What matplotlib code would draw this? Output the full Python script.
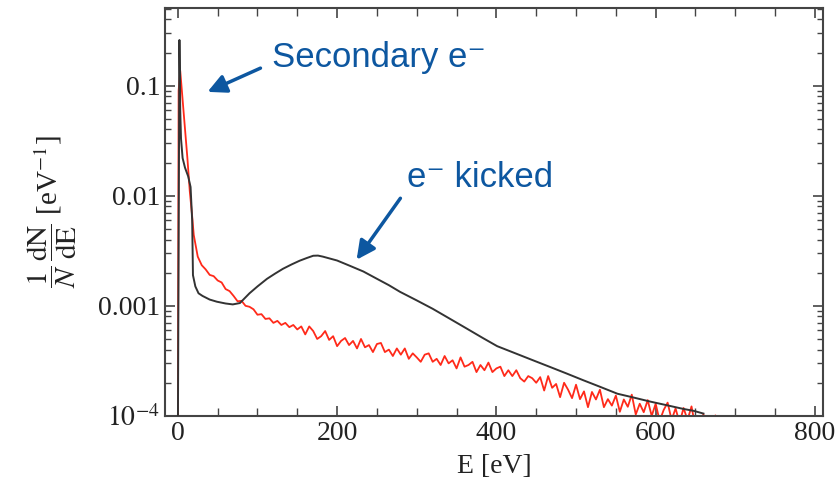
import numpy as np
import matplotlib
matplotlib.use('Agg')
import matplotlib.pyplot as plt
from matplotlib.ticker import FixedLocator, NullFormatter, MultipleLocator

plt.rcParams['font.family'] = ['Liberation Serif', 'DejaVu Serif']
plt.rcParams['mathtext.fontset'] = 'stix'

# black curve (e- kicked)
black_E = [0, 2, 3, 4, 6, 9, 13, 16, 18, 19, 22, 26, 31, 40, 49, 60, 69, 78, 90, 100,
           112, 122, 132, 143, 153, 162, 170, 176, 182, 200, 216, 233, 250, 265, 279,
           300, 320, 342, 363, 383, 401, 426, 446, 467, 488, 509, 530, 552, 572, 593,
           614, 634, 648, 660]
black_y = [5e-5, 0.26, 0.06, 0.033, 0.022, 0.018, 0.015, 0.012, 0.006, 0.0019, 0.0015,
           0.0013, 0.00123, 0.00114, 0.00109, 0.00105, 0.00103, 0.00106, 0.0013, 0.0015,
           0.00176, 0.00196, 0.00217, 0.00238, 0.00257, 0.00272, 0.00285, 0.00286, 0.0028,
           0.00258, 0.00231, 0.00205, 0.00176, 0.00154, 0.00134, 0.00112, 0.00094,
           0.00076, 0.00062, 0.00051, 0.00043, 0.000365, 0.00032, 0.000279, 0.000243,
           0.000211, 0.000184, 0.000159, 0.000147, 0.000135, 0.000125, 0.000116,
           0.000111, 0.000105]

# red curve (secondary e-), head of the peak
red_head_E = [0, 1, 3, 6, 9, 12, 15, 18]
red_head_y = [5e-5, 0.09, 0.137, 0.075, 0.04, 0.022, 0.011, 0.0065]

# red curve tail, every 5 eV from 20 to 680, values in units of 1e-4
red_tail_E = list(range(20, 681, 5))
red_tail_1e4 = [44, 28, 23.4, 21.4, 19.1, 18.6, 17.0, 16.3, 14.2, 13.6,
                12.3, 11.0, 11.1, 10.0, 9.8, 9.3, 8.3, 8.4, 7.6, 7.7,
                7.0, 7.3, 6.7, 7.0, 6.4, 6.7, 6.1, 6.5, 5.5, 6.5,
                5.9, 5.0, 5.3, 5.9, 4.9, 5.3, 4.3, 4.8, 5.1, 4.4,
                4.8, 4.1, 5.0, 4.2, 4.4, 3.8, 4.5, 4.6, 3.8, 4.0,
                3.5, 4.1, 3.6, 4.1, 3.3, 3.7, 3.4, 3.1, 3.6, 3.7,
                3.1, 3.3, 2.9, 3.5, 3.0, 3.2, 2.7, 3.4, 2.8, 2.9,
                3.1, 2.5, 2.9, 2.6, 3.05, 2.5, 2.7, 2.8, 2.3, 2.6,
                2.3, 2.6, 2.2, 2.05, 2.3, 2.2, 2.0, 2.25, 1.7, 2.3,
                1.8, 1.95, 1.48, 2.0, 1.73, 1.45, 1.92, 1.42, 1.67, 1.2,
                1.65, 1.41, 1.73, 1.2, 1.42, 1.24, 1.53, 1.09, 1.41, 1.21,
                1.56, 1.03, 1.29, 1.08, 1.39, 1.0, 1.29, 0.9, 1.13, 1.32,
                0.92, 1.17, 0.86, 1.18, 0.92, 1.22, 0.78, 0.91, 1.03, 0.73,
                0.83, 1.01, 0.7]

x_ticks = [0, 200, 400, 600, 800]
y_ticks = [1e-4, 1e-3, 1e-2, 1e-1]
y_ticklabels = [r'$10^{-4}$', '0.001', '0.01', '0.1']

blue = '#0D57A0'

fig = plt.figure(figsize=(8.38, 4.87), dpi=100)
ax = fig.add_axes([0.197, 0.146, 0.785, 0.838])

red_E = red_head_E + red_tail_E
red_y = red_head_y + [v * 1e-4 for v in red_tail_1e4]

ax.plot(black_E, black_y, color='#333333', lw=1.4, zorder=3)
ax.plot(red_E, red_y, color='#FF2A1A', lw=1.3, zorder=2)

ax.set_yscale('log')
ax.set_xlim(-16, 810)
ax.set_ylim(1e-4, 0.51)

ax.set_xticks(x_ticks)
ax.xaxis.set_minor_locator(MultipleLocator(50))
ax.yaxis.set_major_locator(FixedLocator(y_ticks))
ax.set_yticklabels(y_ticklabels)
ax.yaxis.set_minor_formatter(NullFormatter())

ax.tick_params(which='both', direction='in', top=True, right=True,
               labelsize=20, colors='#444444', labelcolor='#222222')
ax.tick_params(which='major', length=7, width=1.2)
ax.tick_params(which='minor', length=4, width=1.0)
ax.tick_params(axis='x', which='minor', length=6)
for s in ax.spines.values():
    s.set_color('#444444')
    s.set_linewidth(1.5)

ax.set_xlabel('E [eV]', fontsize=20, color='#222222', labelpad=6)
ax.set_ylabel(r'$\dfrac{1}{N}\,\dfrac{\mathrm{dN}}{\mathrm{dE}}$ [eV$^{-1}$]',
              fontsize=21, color='#222222', labelpad=14)

# annotations
ax.annotate('', xy=(205, 394), xytext=(263, 420), xycoords='figure pixels',
            textcoords='figure pixels',
            arrowprops=dict(arrowstyle='-|>', color=blue, lw=2.5, mutation_scale=28))
ax.annotate('', xy=(355, 225), xytext=(402, 291), xycoords='figure pixels',
            textcoords='figure pixels',
            arrowprops=dict(arrowstyle='-|>', color=blue, lw=2.5, mutation_scale=28))
fig.text(272 / 838, 1 - 67 / 487, 'Secondary e\u207b', color=blue, fontsize=25,
         family=['Liberation Sans', 'DejaVu Sans'], va='baseline')
fig.text(407 / 838, 1 - 187 / 487, 'e\u207b kicked', color=blue, fontsize=25,
         family=['Liberation Sans', 'DejaVu Sans'], va='baseline')

fig.savefig('out.png', dpi=100)
